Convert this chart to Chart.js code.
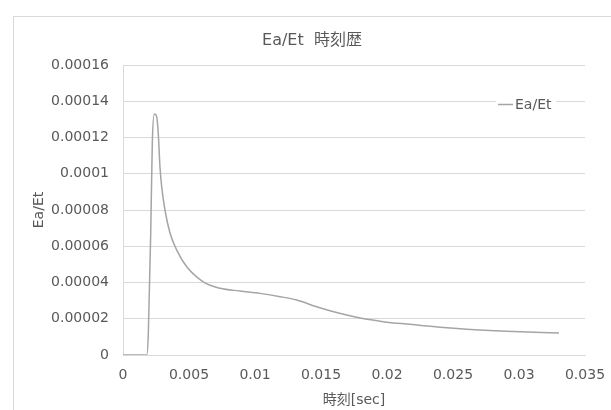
<!DOCTYPE html>
<html>
<head>
<meta charset="utf-8">
<script src="https://cdn.jsdelivr.net/npm/chart.js@4"></script>
<style>
html,body{margin:0;padding:0;background:#fff;}
canvas{display:block;}
</style>
</head>
<body>
<canvas id="c" width="611" height="410"></canvas>
<script>
const chartTitle = 'Ea/Et  時刻歴';
const seriesName = 'Ea/Et';
const xAxisTitle = '時刻[sec]';
const yAxisTitle = 'Ea/Et';
const timeSec = [0, 0.0018, 0.00192, 0.0021, 0.00222, 0.00237, 0.00255, 0.00267, 0.0028, 0.00293, 0.00318, 0.00356, 0.00407, 0.00483, 0.00608, 0.00735, 0.00886, 0.01038, 0.0119, 0.01316, 0.01467, 0.01568, 0.0177, 0.01972, 0.02174, 0.02402, 0.02604, 0.02907, 0.03303];
const eaEt = [0, 0, 0.0000122, 0.0000673, 0.0001168, 0.000133, 0.0001315, 0.0001225, 0.0001039, 0.0000929, 0.00008, 0.0000673, 0.0000579, 0.0000487, 0.0000404, 0.0000368, 0.0000353, 0.000034, 0.0000322, 0.0000303, 0.0000266, 0.0000244, 0.0000208, 0.0000184, 0.0000169, 0.0000153, 0.0000142, 0.0000131, 0.0000121];
const xTickLabels = ['0', '0.005', '0.01', '0.015', '0.02', '0.025', '0.03', '0.035'];
const yTickLabels = ['0', '0.00002', '0.00004', '0.00006', '0.00008', '0.0001', '0.00012', '0.00014', '0.00016'];

const TEXT = '#595959';
const GRID = '#d9d9d9';
const LINE = '#a5a5a5';
const FONT = '"DejaVu Sans", "Noto Sans CJK JP", sans-serif';

const points = timeSec.map((t, i) => ({x: t, y: eaEt[i]}));

const decor = {
  id: 'decor',
  beforeDraw(chart) {
    const ctx = chart.ctx;
    ctx.save();
    ctx.fillStyle = '#fff';
    ctx.fillRect(0, 0, chart.width, chart.height);
    ctx.strokeStyle = GRID;
    ctx.lineWidth = 1;
    ctx.strokeRect(13.5, 16.5, 800, 600);
    ctx.restore();
  },
  afterDraw(chart) {
    const ctx = chart.ctx;
    ctx.save();
    ctx.fillStyle = TEXT;
    ctx.font = '16px ' + FONT;
    ctx.textAlign = 'center';
    ctx.textBaseline = 'middle';
    ctx.fillText(chartTitle, 312, 41);
    ctx.fillStyle = '#fff';
    ctx.fillRect(496, 96, 60, 18);
    ctx.strokeStyle = LINE;
    ctx.lineWidth = 1.5;
    ctx.beginPath();
    ctx.moveTo(498, 104.5);
    ctx.lineTo(513, 104.5);
    ctx.stroke();
    ctx.fillStyle = TEXT;
    ctx.font = '14px ' + FONT;
    ctx.textAlign = 'left';
    ctx.fillText(seriesName, 515, 105.5);
    ctx.restore();
  }
};

new Chart(document.getElementById('c'), {
  type: 'scatter',
  data: {
    datasets: [{
      label: seriesName,
      data: points,
      showLine: true,
      borderColor: LINE,
      borderWidth: 1.5,
      pointRadius: 0,
      cubicInterpolationMode: 'monotone',
      fill: false
    }]
  },
  options: {
    responsive: false,
    devicePixelRatio: 1,
    animation: false,
    layout: {padding: {left: 13, right: 26, top: 65, bottom: 0}},
    plugins: {
      legend: {display: false},
      title: {display: false},
      tooltip: {enabled: false}
    },
    scales: {
      x: {
        type: 'linear',
        min: 0, max: 0.035,
        afterFit(s) { s.height = 55; s.paddingLeft = 0; s.paddingRight = 0; },
        afterBuildTicks(s) { s.ticks = xTickLabels.map((l, i) => ({value: i * 0.005})); },
        ticks: {
          color: TEXT,
          font: {family: FONT, size: 14},
          padding: 12,
          maxRotation: 0,
          callback: (v, i) => xTickLabels[i]
        },
        grid: {display: false, drawTicks: false},
        border: {display: true, color: GRID, width: 1},
        title: {
          display: true, text: xAxisTitle, color: TEXT,
          font: {family: FONT, size: 14},
          padding: {top: 0, bottom: 1}
        }
      },
      y: {
        type: 'linear',
        min: 0, max: 0.00016,
        afterFit(s) { s.width = 110; s.paddingTop = 0; s.paddingBottom = 0; },
        afterBuildTicks(s) { s.ticks = yTickLabels.map((l, i) => ({value: i * 0.00002})); },
        ticks: {
          color: TEXT,
          font: {family: FONT, size: 14},
          padding: 14,
          callback: (v, i) => yTickLabels[i]
        },
        grid: {color: GRID, lineWidth: 1, drawTicks: false},
        border: {display: true, color: GRID, width: 1},
        title: {
          display: true, text: yAxisTitle, color: TEXT,
          font: {family: FONT, size: 14},
          padding: {top: 18, bottom: 0}
        }
      }
    }
  },
  plugins: [decor]
});
</script>
</body>
</html>
